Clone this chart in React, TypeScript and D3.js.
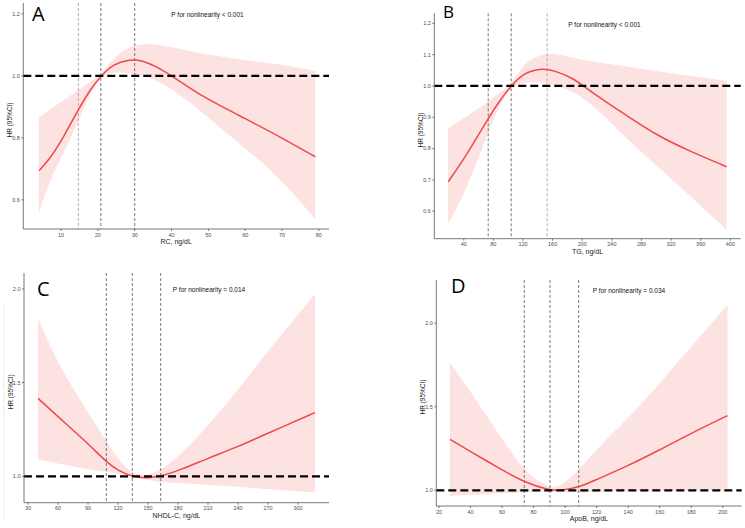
import React from 'react';
import * as d3 from 'd3';

// ---- data (x, HR, lower CI, upper CI) ----
const rcX = [4, 7, 10.6, 14.7, 17.9, 20.8, 24.2, 28.7, 32, 36, 40, 45, 50, 60, 70, 79];
const rcHR = [0.694, 0.733, 0.8, 0.892, 0.955, 1.0, 1.038, 1.054, 1.05, 1.03, 1.0, 0.96, 0.923, 0.862, 0.8, 0.739];
const rcLo = [0.559, 0.664, 0.75, 0.852, 0.945, 1.0, 1.013, 1.008, 1.002, 0.985, 0.958, 0.915, 0.864, 0.767, 0.664, 0.538];
const rcHi = [0.866, 0.89, 0.921, 0.953, 0.982, 1.0, 1.06, 1.095, 1.103, 1.102, 1.093, 1.08, 1.068, 1.05, 1.037, 1.016];
const rcCuts = [14.7, 20.8, 30];

const tgX = [19, 44, 73, 89, 104, 120, 143, 161, 188, 201, 230, 257, 302, 347, 395];
const tgHR = [0.694, 0.779, 0.897, 0.955, 1.0, 1.04, 1.056, 1.051, 1.024, 1.0, 0.952, 0.91, 0.84, 0.79, 0.742];
const tgLo = [0.559, 0.668, 0.854, 0.94, 1.0, 1.012, 1.013, 1.004, 0.982, 0.962, 0.905, 0.838, 0.742, 0.646, 0.54];
const tgHi = [0.865, 0.903, 0.949, 0.98, 1.0, 1.072, 1.099, 1.106, 1.09, 1.083, 1.072, 1.064, 1.046, 1.032, 1.016];
const tgCuts = [73, 104, 152.6];

const nhX = [40, 60, 90, 108, 120, 134, 149, 163, 182, 210, 240, 270, 317];
const nhHR = [1.416, 1.318, 1.175, 1.078, 1.03, 0.998, 0.989, 1.0, 1.033, 1.096, 1.158, 1.23, 1.34];
const nhLo = [1.091, 1.069, 1.037, 1.025, 1.016, 0.998, 0.98, 0.968, 0.963, 0.954, 0.945, 0.932, 0.913];
const nhHi = [1.843, 1.6, 1.34, 1.19, 1.09, 1.012, 1.0, 1.035, 1.11, 1.27, 1.46, 1.67, 1.973];
const nhCuts = [108.3, 134.3, 162.7];

const apX = [27, 40, 60, 74, 90, 97, 109, 120, 139, 160, 179, 203];
const apHR = [1.305, 1.232, 1.122, 1.048, 1.0, 0.998, 1.018, 1.065, 1.142, 1.242, 1.337, 1.447];
const apLo = [0.966, 0.972, 0.982, 0.986, 0.992, 0.99, 0.986, 0.99, 0.994, 0.996, 0.998, 1.0];
const apHi = [1.764, 1.59, 1.31, 1.11, 1.012, 1.022, 1.12, 1.25, 1.42, 1.64, 1.85, 2.11];
const apCuts = [74.1, 90.4, 108.6];

const rcXTicks = [10, 20, 30, 40, 50, 60, 70, 80];
const rcYTicks = [0.6, 0.8, 1.0, 1.2];
const tgXTicks = [40, 80, 120, 160, 200, 240, 280, 320, 360, 400];
const tgYTicks = [0.6, 0.7, 0.8, 0.9, 1.0, 1.1, 1.2];
const nhXTicks = [30, 60, 90, 120, 150, 180, 210, 240, 270, 300];
const nhYTicks = [1.0, 1.5, 2.0];
const apXTicks = [20, 40, 60, 80, 100, 120, 140, 160, 180, 200];
const apYTicks = [1.0, 1.5, 2.0];

const RED = '#f04848';
const BAND = '#fde2e2';
const FONT = '"Liberation Sans", Arial, sans-serif';

interface PanelProps {
  letter: string;
  xTitle: string;
  pText: string;
  x: number[];
  hr: number[];
  lo: number[];
  hi: number[];
  cuts: number[];
  xTicks: number[];
  yTicks: number[];
  xDomain: [number, number];
  yDomain: [number, number];
  box: { left: number; right: number; top: number; bottom: number };
  letterPos: [number, number];
  letterSize: number;
  pPos: [number, number];
  lightCut: number;
}

const Panel: React.FC<PanelProps> = (p) => {
  const { left, right, top, bottom } = p.box;
  const xs = d3.scaleLinear().domain(p.xDomain).range([left, right]);
  const ys = d3.scaleLinear().domain(p.yDomain).range([bottom, top]);
  const idx = p.x.map((_, i) => i);

  // B-spline smooths the hand-read points like the fitted spline in the original
  const line = d3.line<number>()
    .x((i) => xs(p.x[i]))
    .y((i) => ys(p.hr[i]))
    .curve(d3.curveBasis);
  const area = d3.area<number>()
    .x((i) => xs(p.x[i]))
    .y0((i) => ys(p.lo[i]))
    .y1((i) => ys(p.hi[i]))
    .curve(d3.curveBasis);

  const fmtY = (v: number) => v.toFixed(1);

  return (
    <g>
      <path d={area(idx) || ''} fill={BAND} />
      {p.cuts.map((c, i) => (
        <line key={'c' + i} x1={xs(c)} x2={xs(c)} y1={top} y2={bottom}
          stroke={i === p.lightCut ? '#9a9a9a' : '#555'} strokeWidth={0.8} strokeDasharray="3,2" />
      ))}
      <path d={line(idx) || ''} fill="none" stroke={RED} strokeWidth={1.5} />
      <line x1={left} x2={right} y1={ys(1)} y2={ys(1)} stroke="#000" strokeWidth={2.2} strokeDasharray="8,4" />

      {/* axes */}
      <line x1={left} x2={left} y1={top} y2={bottom} stroke="#555" strokeWidth={0.8} />
      <line x1={left} x2={right} y1={bottom} y2={bottom} stroke="#555" strokeWidth={0.8} />
      {p.yTicks.map((t) => (
        <g key={'y' + t}>
          <line x1={left - 2} x2={left} y1={ys(t)} y2={ys(t)} stroke="#555" strokeWidth={0.8} />
          <text x={left - 3.5} y={ys(t)} dy="0.35em" textAnchor="end" fontSize={5.5} fill="#4d4d4d" fontFamily={FONT}>{fmtY(t)}</text>
        </g>
      ))}
      {p.xTicks.map((t) => (
        <g key={'x' + t}>
          <line x1={xs(t)} x2={xs(t)} y1={bottom} y2={bottom + 2} stroke="#555" strokeWidth={0.8} />
          <text x={xs(t)} y={bottom + 7.5} textAnchor="middle" fontSize={5.5} fill="#4d4d4d" fontFamily={FONT}>{t}</text>
        </g>
      ))}
      <text x={(left + right) / 2} y={bottom + 15} textAnchor="middle" fontSize={7} fill="#222" fontFamily={FONT}>{p.xTitle}</text>
      <text transform={`translate(${left - 14},${(top + bottom) / 2 + 4}) rotate(-90)`} textAnchor="middle"
        dominantBaseline="central" fontSize={6.5} fill="#222" fontFamily={FONT}>HR (95%CI)</text>
      <text x={p.pPos[0]} y={p.pPos[1]} textAnchor="middle" fontSize={6.5} fill="#111" fontFamily={FONT}>{p.pText}</text>
      <text x={p.letterPos[0]} y={p.letterPos[1]} fontSize={p.letterSize} fill="#000" fontFamily='"Open Sans", "DejaVu Sans", sans-serif'>{p.letter}</text>
    </g>
  );
};

const App: React.FC = () => {
  return (
    <div style={{ position: 'absolute', left: 0, top: 0 }}>
      <svg width={745} height={528} viewBox="0 0 745 528" style={{ display: 'block', background: '#fff' }}>
        <rect width={745} height={528} fill="#fff" />
        <line x1={4} x2={4} y1={303} y2={520} stroke="#e6e6e6" strokeWidth={0.8} />
        <Panel letter="A" xTitle="RC, ng/dL" pText="P for nonlinearity < 0.001"
          x={rcX} hr={rcHR} lo={rcLo} hi={rcHi} cuts={rcCuts} xTicks={rcXTicks} yTicks={rcYTicks}
          xDomain={[-0.25, 82.75]} yDomain={[0.506, 1.235]}
          box={{ left: 23.3, right: 329, top: 3, bottom: 229 }} letterPos={[32, 21]} letterSize={20} pPos={[207.5, 16.5]} lightCut={0} />
        <Panel letter="B" xTitle="TG, ng/dL" pText="P for nonlinearity < 0.001"
          x={tgX} hr={tgHR} lo={tgLo} hi={tgHi} cuts={tgCuts} xTicks={tgXTicks} yTicks={tgYTicks}
          xDomain={[0.2, 414]} yDomain={[0.512, 1.232]}
          box={{ left: 434.3, right: 740.7, top: 13.3, bottom: 238.7 }} letterPos={[443, 18]} letterSize={17} pPos={[604.5, 26.5]} lightCut={2} />
        <Panel letter="C" xTitle="NHDL-C, ng/dL" pText="P for nonlinearity = 0.014"
          x={nhX} hr={nhHR} lo={nhLo} hi={nhHi} cuts={nhCuts} xTicks={nhXTicks} yTicks={nhYTicks}
          xDomain={[26, 331]} yDomain={[0.859, 2.085]}
          box={{ left: 24, right: 329, top: 273, bottom: 502.7 }} letterPos={[37, 296]} letterSize={20} pPos={[209, 291.5]} lightCut={-1} />
        <Panel letter="D" xTitle="ApoB, ng/dL" pText="P for nonlinearity = 0.034"
          x={apX} hr={apHR} lo={apLo} hi={apHi} cuts={apCuts} xTicks={apXTicks} yTicks={apYTicks}
          xDomain={[18.3, 212]} yDomain={[0.906, 2.259]}
          box={{ left: 436.3, right: 741.7, top: 280, bottom: 506 }} letterPos={[451, 293]} letterSize={20} pPos={[629, 293]} lightCut={-1} />
      </svg>
    </div>
  );
};

export default App;
